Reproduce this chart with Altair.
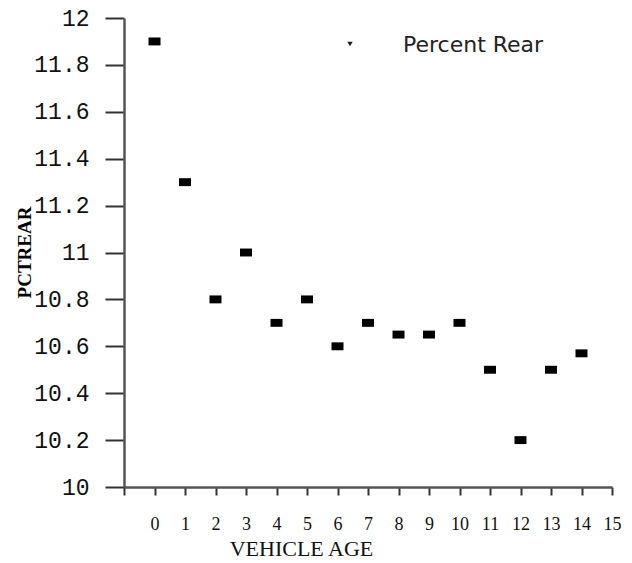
import altair as alt
import pandas as pd

# Percent of rear-end crashes by vehicle age
vehicle_age = [0, 1, 2, 3, 4, 5, 6, 7, 8, 9, 10, 11, 12, 13, 14]
pct_rear = [11.9, 11.3, 10.8, 11.0, 10.7, 10.8, 10.6, 10.7, 10.65, 10.65, 10.7, 10.5, 10.2, 10.5, 10.57]
series_name = "Percent Rear"

x_ticks = list(range(-1, 16))
y_ticks = [10, 10.2, 10.4, 10.6, 10.8, 11, 11.2, 11.4, 11.6, 11.8, 12]

df = pd.DataFrame({"age": vehicle_age, "pct": pct_rear})
legend_df = pd.DataFrame({"label": [series_name]})

# small horizontal rectangle marker
rect_path = "M-1,-0.66L1,-0.66L1,0.66L-1,0.66Z"

points = alt.Chart(df).mark_point(
    shape=rect_path, filled=True, color="#000000", opacity=1, size=144
).encode(
    x=alt.X(
        "age:Q",
        scale=alt.Scale(domain=[-1, 15], nice=False, zero=False),
        axis=alt.Axis(
            title="VEHICLE AGE",
            values=x_ticks,
            labelExpr="datum.value < 0 ? '' : datum.label",
            labelFont="Liberation Serif",
            labelFontSize=18,
            labelColor="#111111",
            labelPadding=20,
            labelFlush=False,
            labelOverlap=False,
            labelBound=False,
            tickSize=8,
            tickWidth=2,
            tickColor="#333333",
            domainColor="#555555",
            domainWidth=2.5,
            grid=False,
            titleFont="Liberation Serif",
            titleFontSize=22,
            titleFontWeight="normal",
            titleColor="#111111",
            titleX=177,
            titleY=68,
            titleAlign="center",
            titleBaseline="alphabetic",
        ),
    ),
    y=alt.Y(
        "pct:Q",
        scale=alt.Scale(domain=[10, 12], nice=False, zero=False),
        axis=alt.Axis(
            title="PCTREAR",
            values=y_ticks,
            format="~g",
            labelFont="Liberation Mono",
            labelFontSize=23,
            labelColor="#111111",
            labelPadding=16,
            labelFlush=False,
            labelOverlap=False,
            labelBound=False,
            tickSize=19,
            tickWidth=2,
            tickColor="#333333",
            domainColor="#555555",
            domainWidth=2.5,
            grid=False,
            titleFont="Liberation Serif",
            titleFontSize=19,
            titleFontWeight="bold",
            titleColor="#000000",
            titleAngle=-90,
            titleX=-94,
            titleY=234,
            titleAlign="center",
            titleBaseline="alphabetic",
        ),
    ),
)

legend_symbol = alt.Chart(legend_df).mark_point(
    shape="triangle-down", filled=True, color="#222222", opacity=1, size=30
).encode(x=alt.value(226), y=alt.value(26))

legend_text = alt.Chart(legend_df).mark_text(
    align="left", baseline="alphabetic", font="DejaVu Sans", fontSize=22, color="#222222"
).encode(text="label:N", x=alt.value(279), y=alt.value(34))

chart = alt.layer(points, legend_symbol, legend_text).properties(
    width=488,
    height=469,
    autosize=alt.AutoSizeParams(type="none"),
    padding={"left": 124, "top": 18, "right": 20, "bottom": 76},
    background="#ffffff",
).configure_view(stroke=None)

chart.save("out.html", embed_options={"renderer": "svg", "actions": False})
